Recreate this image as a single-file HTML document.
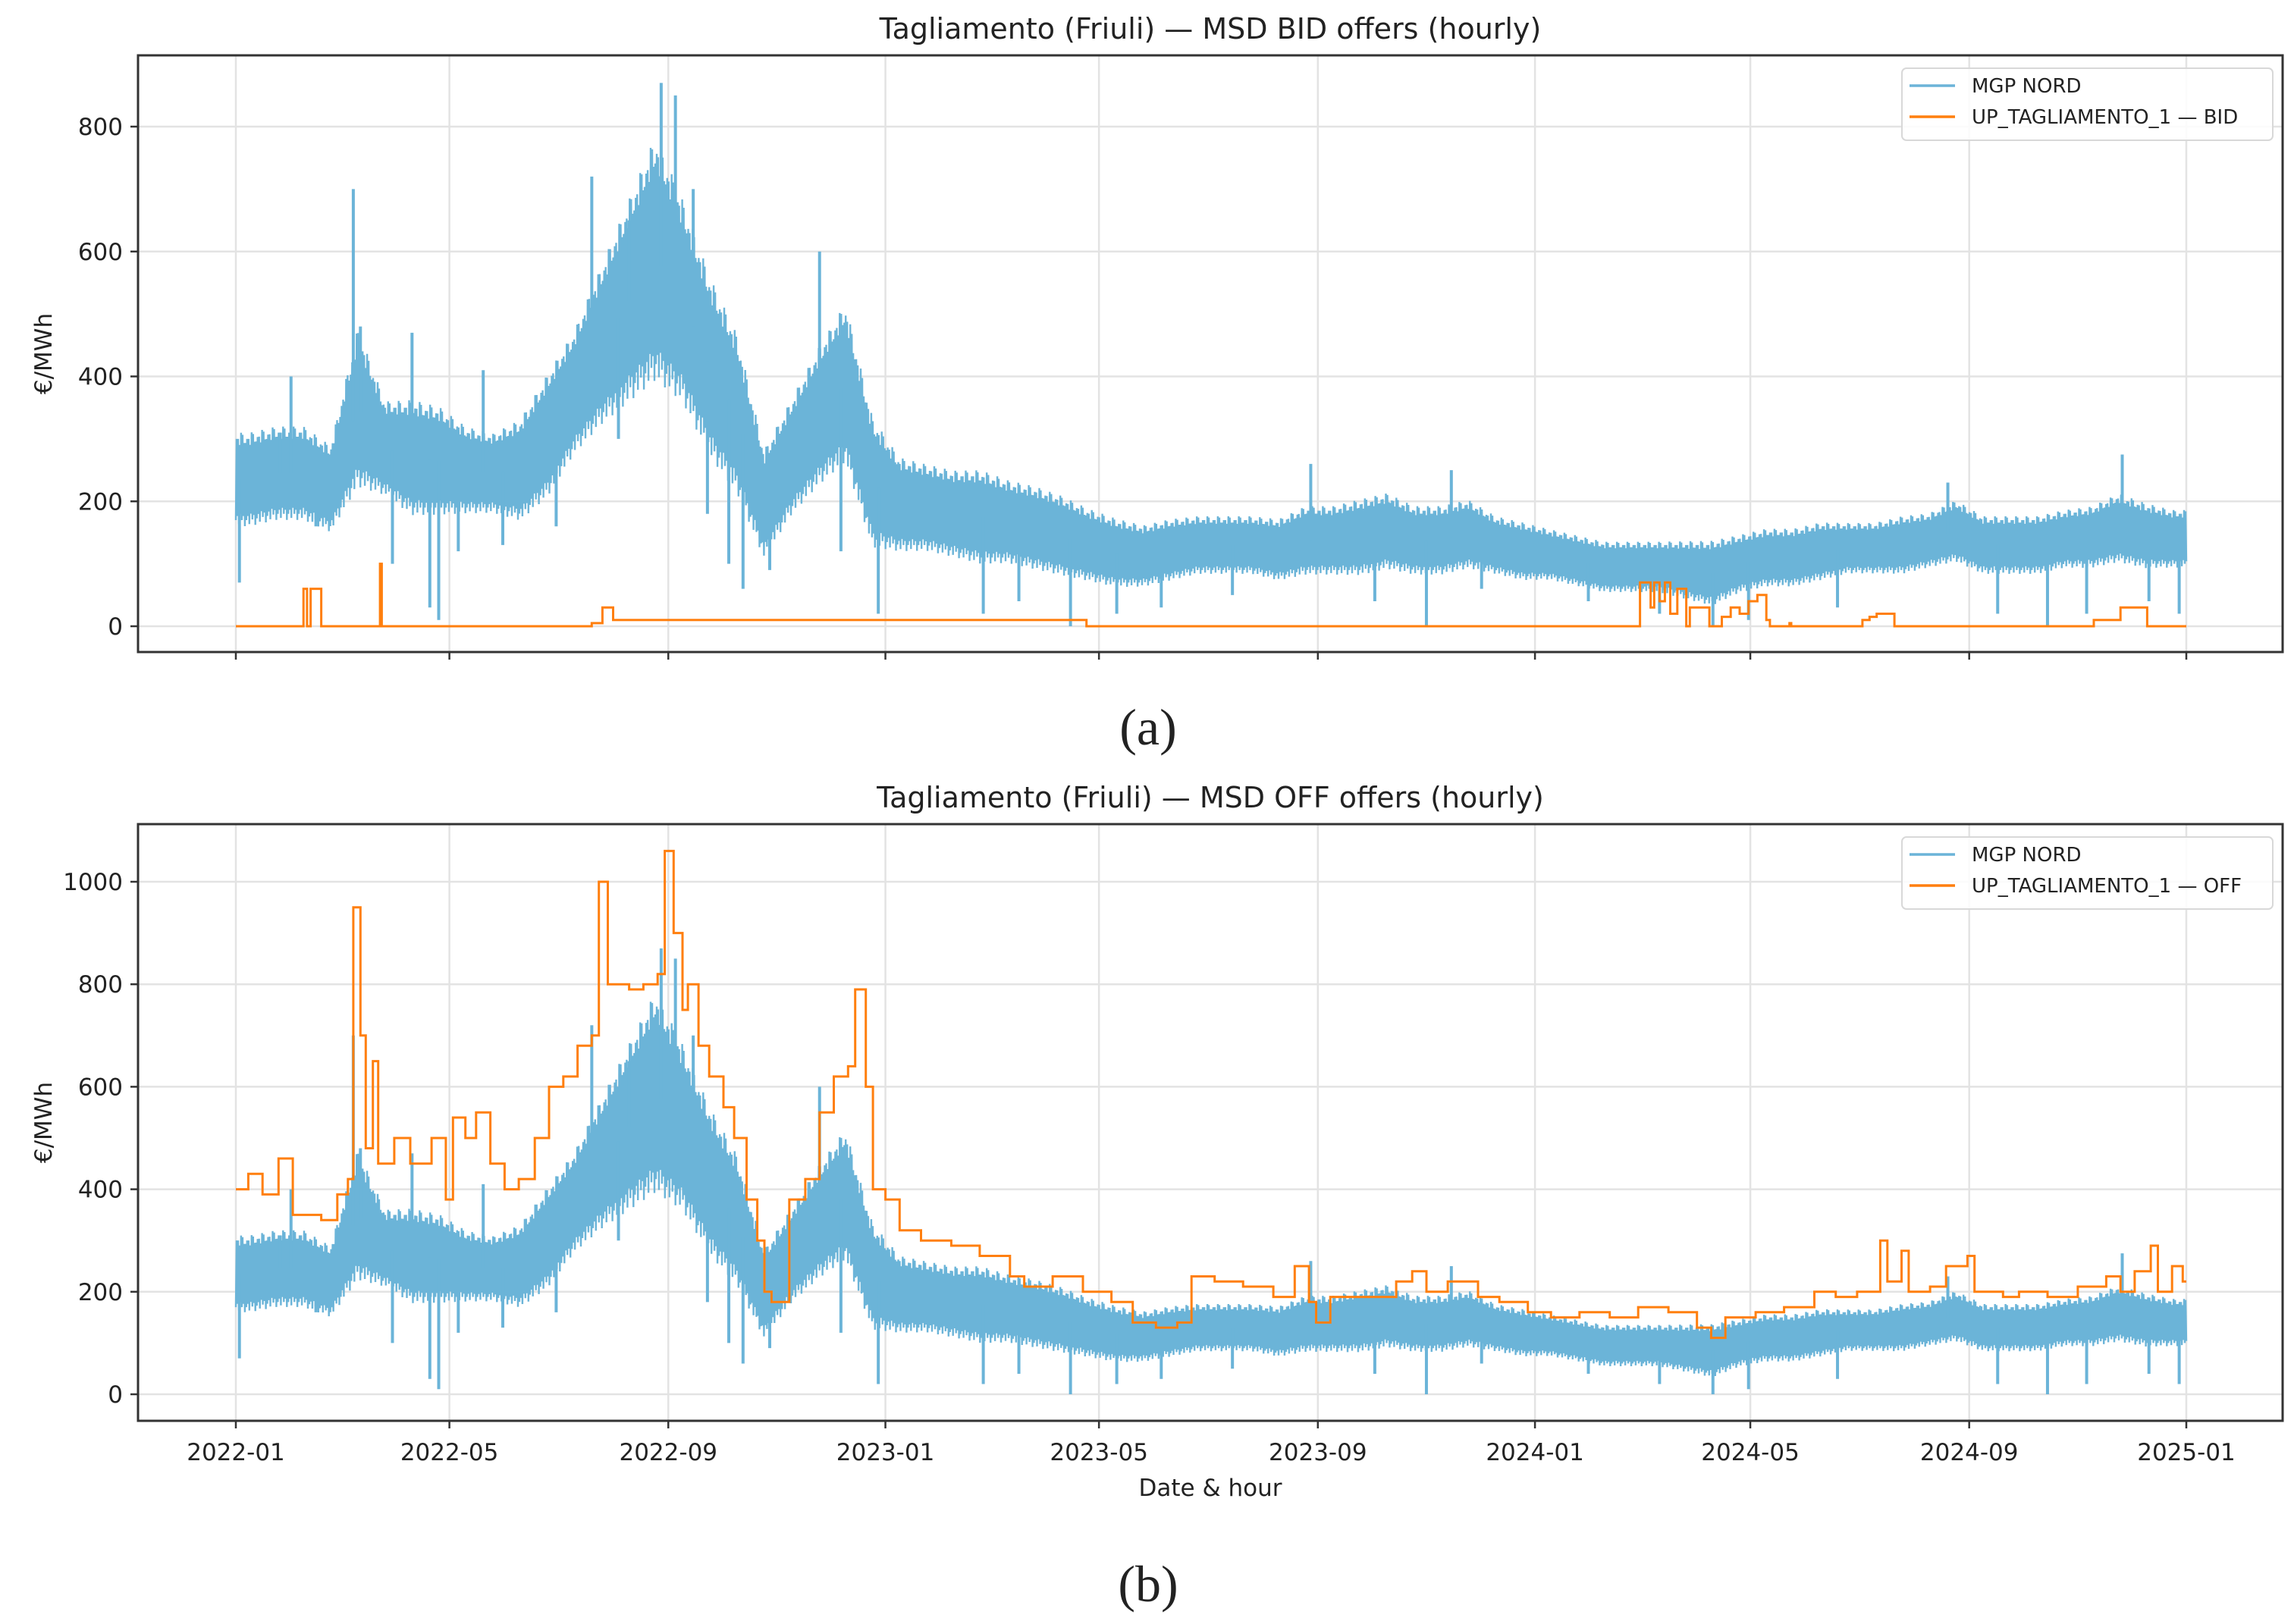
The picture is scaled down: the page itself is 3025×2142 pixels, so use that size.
<!DOCTYPE html>
<html><head><meta charset="utf-8"><style>
html,body{margin:0;padding:0;background:#fff;}
svg{display:block;}
text{font-family:"DejaVu Sans","Liberation Sans",sans-serif;fill:#222;}
</style></head><body>
<svg id="fig" width="3025" height="2142" viewBox="0 0 3025 2142" xmlns="http://www.w3.org/2000/svg">
<defs>
<clipPath id="clipA"><rect x="182" y="73" width="2828" height="787"/></clipPath>
<clipPath id="clipB"><rect x="182" y="1087" width="2828" height="787"/></clipPath>
</defs>
<g id="panelA"></g>
<g id="panelB"></g>
<text x="1514" y="982" text-anchor="middle" style="font-family:'Liberation Serif',serif;font-size:68px;">(a)</text>
<text x="1514" y="2112" text-anchor="middle" style="font-family:'Liberation Serif',serif;font-size:68px;">(b)</text>
</svg>
<script>
// ---- data (days since 2022-01-01) ----
// MGP NORD half-monthly band (low / high, €/MWh), 72 bins 2022-01 .. 2024-12
const mgpLow = [170,180,180,160,240,220,190,190,190,190,180,220,290,340,380,420,380,290,230,120,190,240,280,140,
  130,130,120,110,110,100,90,80,70,70,80,90,90,90,80,90,90,90,100,90,90,100,90,80,
  80,70,60,60,60,50,40,60,70,70,80,90,90,90,100,110,90,90,90,100,100,110,100,100];
const mgpHigh = [300,310,310,280,460,350,350,340,310,300,320,390,460,560,660,760,660,540,450,270,350,430,500,320,
  260,250,240,240,225,215,200,180,165,155,165,170,170,170,165,185,185,195,205,185,185,195,170,160,
  150,140,130,130,130,130,130,140,150,150,160,160,160,170,175,195,170,170,170,180,185,205,190,180];
const spikeDays = [2,31,66,70,99,109,114,139,200,221,239,247,257,277,328,361,469,495,604,669,683,830,962,1018,1060,1092,
  25,45,88,125,150,180,215,265,285,300,340,420,440,520,560,640,700,760,800,850,900,990,1040,1075];
const spikeVals = [70,400,700,480,470,30,10,410,720,650,870,850,700,100,600,20,0,20,260,0,250,0,230,0,275,20,
  310,160,100,120,130,160,300,180,60,90,120,20,40,30,50,40,60,40,20,10,30,20,20,40];
// BID step series
const bidDays = [0,38,40,42,48,81,82,200,206,210,212,478,789,795,797,800,803,806,810,815,817,828,835,840,845,850,855,860,862,873,874,914,918,922,932,1044,1059,1074,1096];
const bidVals = [0,60,0,60,0,100,0,5,30,30,10,0,70,30,70,40,70,20,60,0,30,0,15,30,20,40,50,10,0,5,0,10,15,20,0,10,30,0,0];
// OFF step series
const offDays = [0,7,15,24,32,48,57,63,66,70,73,77,80,83,89,98,110,118,122,129,135,143,151,159,168,176,184,192,200,204,209,221,229,237,241,246,251,254,260,266,274,280,287,293,297,301,311,320,328,336,344,348,354,358,365,373,385,402,418,435,443,459,476,492,504,517,529,537,550,566,583,595,603,607,615,636,652,661,669,681,698,710,726,739,755,772,788,805,821,829,837,854,870,887,899,911,924,928,936,940,952,961,973,977,993,1002,1018,1035,1051,1059,1067,1076,1080,1088,1094,1096];
const offVals = [400,430,390,460,350,340,390,420,950,700,480,650,450,450,500,450,500,380,540,500,550,450,400,420,500,600,620,680,700,1000,800,790,800,820,1060,900,750,800,680,620,560,500,380,300,200,180,380,420,550,620,640,790,600,400,380,320,300,290,270,230,210,230,200,180,140,130,140,230,220,210,190,250,180,140,190,190,220,240,200,220,190,180,160,150,160,150,170,160,130,110,150,160,170,200,190,200,300,220,280,200,210,250,270,200,190,200,190,210,230,200,240,290,200,250,220,220];
const yTicksA = [0,200,400,600,800];
const yTicksB = [0,200,400,600,800,1000];
const xTickDays = [0,120,243,365,485,608,730,851,974,1096];
const xTickLabels = ["2022-01","2022-05","2022-09","2023-01","2023-05","2023-09","2024-01","2024-05","2024-09","2025-01"];

// ---- geometry ----
const NS = "http://www.w3.org/2000/svg";
const L = 182, R = 3010;
const xs = d => 311 + d * (2883 - 311) / 1096;
const BLUE = "#6bb4d8", ORANGE = "#ff7f0e";
const AMP = [1,0.7,0.9,0.55,1.1,0.8,0.85,0.6,1,0.7,0.9,0.5,1.15,0.75];
function mk(tag, attrs, parent) {
  const e = document.createElementNS(NS, tag);
  for (const k in attrs) e.setAttribute(k, attrs[k]);
  parent.appendChild(e);
  return e;
}
function bandAt(arr, d) {
  const binW = 1096 / arr.length;
  let f = d / binW - 0.5;
  if (f < 0) f = 0;
  if (f > arr.length - 1) f = arr.length - 1;
  const i = Math.floor(f), t = f - i;
  const j = Math.min(arr.length - 1, i + 1);
  return arr[i] * (1 - t) + arr[j] * t;
}
function panel(g, top, bottom, zeroY, per200, yTicks, title, offLabel, stepDays, stepVals, showXLabels, clipId) {
  const ys = v => zeroY - v * per200 / 200;
  const frame = mk("rect", {x: L, y: top, width: R - L, height: bottom - top, fill: "#fff"}, g);
  
  
  yTicks.forEach(v => {
    const gl = mk("line", {x1: L, x2: R, y1: ys(v), y2: ys(v), stroke: "#e3e3e3", "stroke-width": 2.5}, g);
    
    
    const tm = mk("line", {x1: L - 10, x2: L, y1: ys(v), y2: ys(v), stroke: "#333", "stroke-width": 2.5}, g);
    
    
    const t = mk("text", {x: L - 20, y: ys(v) + 11, "text-anchor": "end", "font-size": 31}, g);
    t.textContent = v;
    
    
  });
  xTickDays.forEach((d, i) => {
    const gl = mk("line", {x1: xs(d), x2: xs(d), y1: top, y2: bottom, stroke: "#e3e3e3", "stroke-width": 2.5}, g);
    
    
    const tm = mk("line", {x1: xs(d), x2: xs(d), y1: bottom, y2: bottom + 10, stroke: "#333", "stroke-width": 2.5}, g);
    
    
    if (showXLabels) {
      const t = mk("text", {x: xs(d), y: bottom + 52, "text-anchor": "middle", "font-size": 31}, g);
      t.textContent = xTickLabels[i];
      
      
    }
  });
  const cg = mk("g", {"clip-path": "url(#" + clipId + ")"}, g);
  
  
  let pts = [];
  const N = 2600;
  for (let k = 0; k <= N; k++) {
    const d = k * 1096 / N;
    const lo = bandAt(mgpLow, d), hi = bandAt(mgpHigh, d);
    const mid = (lo + hi) / 2, a = AMP[k % AMP.length];
    const v = (k % 2 === 0) ? mid - (mid - lo) * a : mid + (hi - mid) * AMP[(k * 3 + 5) % AMP.length];
    pts.push(xs(d).toFixed(1) + "," + ys(v).toFixed(1));
  }
  const bl = mk("polyline", {points: pts.join(" "), fill: "none", stroke: BLUE, "stroke-width": 2.4, "stroke-linejoin": "miter"}, cg);
  
  
  spikeDays.forEach((d, i) => {
    const mid = (bandAt(mgpLow, d) + bandAt(mgpHigh, d)) / 2;
    const sp = mk("line", {x1: xs(d), x2: xs(d), y1: ys(mid), y2: ys(spikeVals[i]), stroke: BLUE, "stroke-width": 4}, cg);
    
    
  });
  let sp = [];
  for (let i = 0; i < stepDays.length; i++) {
    if (i > 0) sp.push(xs(stepDays[i]).toFixed(1) + "," + ys(stepVals[i - 1]).toFixed(1));
    sp.push(xs(stepDays[i]).toFixed(1) + "," + ys(stepVals[i]).toFixed(1));
  }
  const ol = mk("polyline", {points: sp.join(" "), fill: "none", stroke: ORANGE, "stroke-width": 3}, cg);
  
  
  const fb = mk("rect", {x: L, y: top, width: R - L, height: bottom - top, fill: "none", stroke: "#333", "stroke-width": 3}, g);
  
  
  const tt = mk("text", {x: 1596, y: top - 22, "text-anchor": "middle", "font-size": 38}, g);
  tt.textContent = title;
  
  
  const yl = mk("text", {x: 0, y: 0, "text-anchor": "middle", "font-size": 31, transform: "translate(68," + ((top + bottom) / 2) + ") rotate(-90)"}, g);
  yl.textContent = "€/MWh";
  
  
  const lg = mk("g", {}, g);
  
  
  const lb = mk("rect", {x: 2508, y: top + 17, width: 489, height: 95, rx: 6, fill: "#fff", "fill-opacity": 0.85, stroke: "#d8d8d8", "stroke-width": 2}, lg);
  
  
  [[BLUE, "MGP NORD", 40], [ORANGE, offLabel, 81]].forEach(([c, label, dy], i) => {
    const ln = mk("line", {x1: 2518, x2: 2578, y1: top + dy, y2: top + dy, stroke: c, "stroke-width": 3.5}, lg);
    
    
    const tx = mk("text", {x: 2600, y: top + dy + 9, "font-size": 26}, lg);
    tx.textContent = label;
    
    
  });
}
panel(document.getElementById("panelA"), 73, 860, 826, 164.75, yTicksA,
  "Tagliamento (Friuli) — MSD BID offers (hourly)", "UP_TAGLIAMENTO_1 — BID", bidDays, bidVals, false, "clipA");
panel(document.getElementById("panelB"), 1087, 1874, 1839, 135.2, yTicksB,
  "Tagliamento (Friuli) — MSD OFF offers (hourly)", "UP_TAGLIAMENTO_1 — OFF", offDays, offVals, true, "clipB");
const xl = document.createElementNS(NS, "text");
xl.setAttribute("x", 1596); xl.setAttribute("y", 1973); xl.setAttribute("text-anchor", "middle"); xl.setAttribute("font-size", 31);
xl.textContent = "Date & hour";


document.getElementById("fig").appendChild(xl);
</script>
</body></html>
